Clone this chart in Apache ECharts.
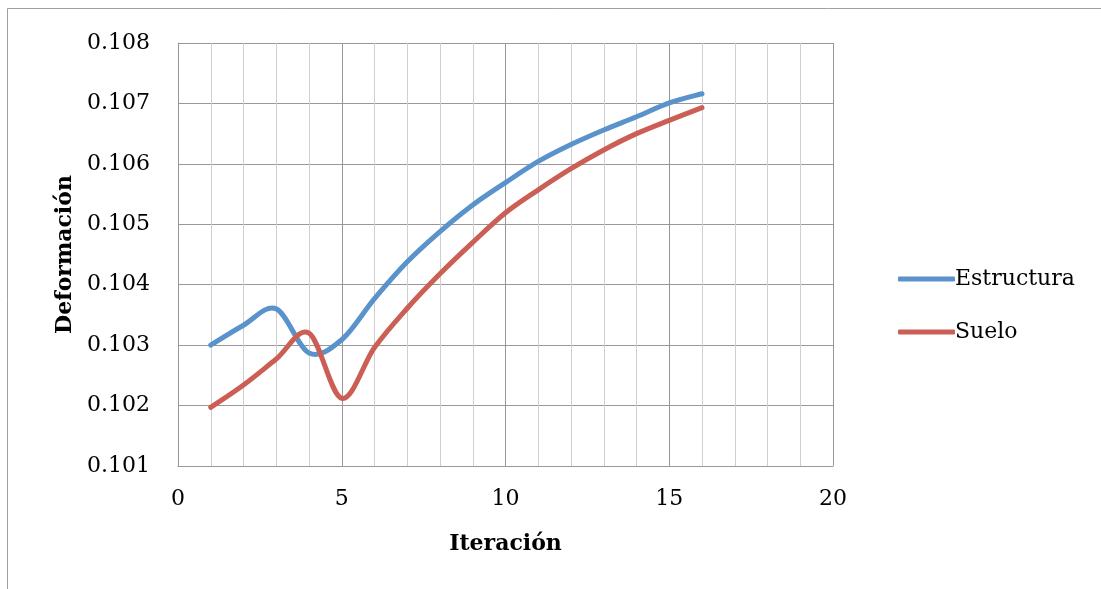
<!DOCTYPE html>
<html>
<head>
<meta charset="utf-8">
<script src="https://cdn.jsdelivr.net/npm/echarts@6/dist/echarts.min.js"></script>
<style>
  html, body { margin: 0; padding: 0; background: #fff; }
  #chart { width: 1101px; height: 589px; }
</style>
</head>
<body>
<div id="chart"></div>
<script>
// Iteration number (x) and deformation of each component (y)
const iteraciones = [1, 2, 3, 4, 5, 6, 7, 8, 9, 10, 11, 12, 13, 14, 15, 16];
const estructura = [0.10300, 0.10333, 0.10360, 0.10287, 0.10309, 0.10377, 0.10438, 0.10488,
                    0.10532, 0.10569, 0.10604, 0.10632, 0.10656, 0.10678, 0.10701, 0.10716];
const suelo = [0.10197, 0.10234, 0.10277, 0.10320, 0.10212, 0.10296, 0.10361, 0.10418,
               0.10470, 0.10519, 0.10557, 0.10592, 0.10623, 0.10650, 0.10672, 0.10693];
const seriesNames = ['Estructura', 'Suelo'];
const seriesColors = ['#5A92CB', '#CC5F55'];

const FONT = 'DejaVu Serif';
const pair = (xs, ys) => xs.map((x, i) => [x, ys[i]]);

// Smoothed line through every data point (Catmull-Rom spline turned into cubic Béziers),
// positioned with the chart's own coordinate system.
function smoothLine(color) {
  return function (params, api) {
    if (params.dataIndex !== 0) return null;
    const n = params.dataInsideLength;
    const pts = [];
    for (let i = 0; i < n; i++) {
      pts.push(api.coord([api.value(0, i), api.value(1, i)]));
    }
    let d = 'M' + pts[0][0] + ' ' + pts[0][1];
    for (let i = 0; i < pts.length - 1; i++) {
      const p0 = pts[Math.max(i - 1, 0)];
      const p1 = pts[i];
      const p2 = pts[i + 1];
      const p3 = pts[Math.min(i + 2, pts.length - 1)];
      const c1x = p1[0] + (p2[0] - p0[0]) / 6;
      const c1y = p1[1] + (p2[1] - p0[1]) / 6;
      const c2x = p2[0] - (p3[0] - p1[0]) / 6;
      const c2y = p2[1] - (p3[1] - p1[1]) / 6;
      d += ' C' + c1x + ' ' + c1y + ' ' + c2x + ' ' + c2y + ' ' + p2[0] + ' ' + p2[1];
    }
    return {
      type: 'path',
      shape: { pathData: d },
      style: { fill: 'none', stroke: color, lineWidth: 5, lineCap: 'round', lineJoin: 'round' },
      silent: true
    };
  };
}

const chart = echarts.init(document.getElementById('chart'), null, { renderer: 'canvas' });

chart.setOption({
  animation: false,
  backgroundColor: '#fff',
  textStyle: { fontFamily: FONT, color: '#000' },
  graphic: [{
    type: 'rect',
    shape: { x: 7.5, y: 8.5, width: 2000, height: 2000 },
    style: { fill: 'none', stroke: '#a0a0a0', lineWidth: 1 },
    silent: true
  }],
  grid: { left: 178, right: 268, top: 43, bottom: 123, containLabel: false },
  legend: {
    orient: 'vertical',
    left: 893,
    top: 263,
    itemWidth: 57,
    itemHeight: 5,
    itemGap: 31,
    icon: 'roundRect',
    textStyle: { fontFamily: FONT, fontSize: 22, color: '#000', padding: [0, 0, 0, -5] },
    data: seriesNames
  },
  xAxis: {
    type: 'value',
    min: 0, max: 20, interval: 5,
    name: 'Iteración',
    nameLocation: 'middle',
    nameGap: 67,
    nameTextStyle: { fontFamily: FONT, fontSize: 22, fontWeight: 'bold', color: '#000' },
    axisLine: { show: true, lineStyle: { color: '#989898', width: 1 } },
    axisTick: { show: false },
    minorTick: { show: false, splitNumber: 5 },
    axisLabel: { fontFamily: FONT, fontSize: 22, color: '#000', margin: 22 },
    splitLine: { show: true, lineStyle: { color: '#989898', width: 1 } },
    minorSplitLine: { show: true, lineStyle: { color: '#cfcfcf', width: 1 } }
  },
  yAxis: {
    type: 'value',
    min: 0.101, max: 0.108, interval: 0.001,
    name: 'Deformación',
    nameLocation: 'middle',
    nameGap: 102,
    nameTextStyle: { fontFamily: FONT, fontSize: 22, fontWeight: 'bold', color: '#000' },
    axisLine: { show: true, lineStyle: { color: '#989898', width: 1 } },
    axisTick: { show: false },
    axisLabel: {
      fontFamily: FONT, fontSize: 22, color: '#000', margin: 28,
      formatter: v => v.toFixed(3)
    },
    splitLine: { show: true, lineStyle: { color: '#989898', width: 1 } }
  },
  series: [
    {
      name: seriesNames[0],
      type: 'custom',
      data: pair(iteraciones, estructura),
      encode: { x: 0, y: 1 },
      renderItem: smoothLine(seriesColors[0]),
      itemStyle: { color: seriesColors[0] }
    },
    {
      name: seriesNames[1],
      type: 'custom',
      data: pair(iteraciones, suelo),
      encode: { x: 0, y: 1 },
      renderItem: smoothLine(seriesColors[1]),
      itemStyle: { color: seriesColors[1] }
    }
  ]
});
</script>
</body>
</html>
